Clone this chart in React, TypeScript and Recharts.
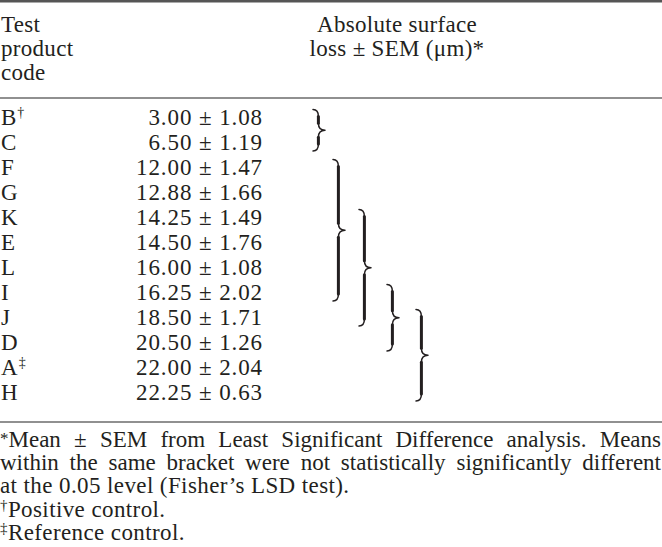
import React from "react";
import { ComposedChart, XAxis, YAxis, Scatter, ReferenceLine, ReferenceArea } from "recharts";

// ---------- data ----------
const codes = ["B", "C", "F", "G", "K", "E", "L", "I", "J", "D", "A", "H"];
const codeMarks = ["\u2020", "", "", "", "", "", "", "", "", "", "\u2021", ""];
const means = [3.0, 6.5, 12.0, 12.88, 14.25, 14.5, 16.0, 16.25, 18.5, 20.5, 22.0, 22.25];
const sems = [1.08, 1.19, 1.47, 1.66, 1.49, 1.76, 1.08, 2.02, 1.71, 1.26, 2.04, 0.63];
const headerLeft = ["Test", "product", "code"];
const headerRight = ["Absolute surface", "loss \u00b1 SEM (\u03bcm)*"];
const groupStarts = ["B", "F", "K", "I", "J"];
const groupEnds = ["C", "I", "J", "D", "H"];
const footnoteMarks = ["*", "", "", "\u2020", "\u2021"];
const footnoteTexts = [
  "Mean \u00b1 SEM from Least Significant Difference analysis. Means",
  "within the same bracket were not statistically significantly different",
  "at the 0.05 level (Fisher\u2019s LSD test).",
  "Positive control.",
  "Reference control.",
];
const footnoteJustified = [true, true, false, false, false];

// ---------- layout ----------
const W = 662;
const H = 547;
const ROW_PX = 25;
const FIRST_BASELINE = 125;
const Y0 = -FIRST_BASELINE / ROW_PX;
const Y1 = Y0 + H / ROW_PX;
const rowOf = (px: number) => (px - FIRST_BASELINE) / ROW_PX;
const HEADER_ROWS = [32, 56, 80].map(rowOf);
const NOTE_ROWS = [447, 470, 493, 516.5, 540].map(rowOf);
const RULES = [
  { y: rowOf(1.2), w: 2.4, c: "#555" },
  { y: rowOf(98), w: 1.4, c: "#6b6b6b" },
  { y: rowOf(422), w: 1.4, c: "#6b6b6b" },
];
const CODE_X = 1;
const VALUE_X = 263;
const HEAD_RIGHT_X = 397;
const BR_X = [313, 333, 359, 387, 416];
const BR_W = 12;
const BR_TOP = 0.62;
const BR_BOT = 0.04;

const FONT = "'Liberation Serif', 'Times New Roman', serif";
const FS = 23;
const INK = "#231f20";

let ctx: CanvasRenderingContext2D | null = null;
function measure(text: string, size: number) {
  if (!ctx) ctx = document.createElement("canvas").getContext("2d");
  if (!ctx) return text.length * size * 0.45;
  ctx.font = `${size}px "Liberation Serif"`;
  return ctx.measureText(text).width;
}

const CodeShape = (p: any) => (
  <text x={p.cx} y={p.cy} fontFamily={FONT} fontSize={FS} fill={INK}>
    {p.payload.label}
    {p.payload.mark ? (
      <tspan fontSize={14} dx={1} dy={-8}>
        {p.payload.mark}
      </tspan>
    ) : null}
  </text>
);

const ValueShape = (p: any) => (
  <text x={p.cx} y={p.cy} fontFamily={FONT} fontSize={FS} fill={INK} textAnchor="end" letterSpacing={0.9}>
    {p.payload.label}
  </text>
);

const PlainShape = (anchor: string) => (p: any) => (
  <text x={p.cx} y={p.cy} fontFamily={FONT} fontSize={FS} fill={INK} textAnchor={anchor} letterSpacing={0.3}>
    {p.payload.label}
  </text>
);

const NoteShape = (p: any) => {
  const { mark, label, justified } = p.payload;
  const markSize = mark === "*" ? 17 : 15;
  let ws = 0;
  if (justified) {
    const full = measure(mark, markSize) + measure(label, FS);
    const spaces = (label.match(/ /g) || []).length;
    ws = spaces > 0 ? (W - 1 - full) / spaces : 0;
  }
  return (
    <text
      x={p.cx}
      y={p.cy}
      fontFamily={FONT}
      fontSize={FS}
      fill={INK}
      letterSpacing={justified ? 0 : 0.4}
      style={{ wordSpacing: `${ws}px` }}
    >
      {mark ? (
        <tspan fontSize={markSize} dy={mark === "*" ? -3 : -7}>
          {mark}
        </tspan>
      ) : null}
      <tspan dy={mark ? (mark === "*" ? 3 : 7) : 0}>{label}</tspan>
    </text>
  );
};

const Brace = (p: any) => {
  const x = Number(p.x);
  const y = Math.min(Number(p.y), Number(p.y) + Number(p.height));
  const w = Math.abs(Number(p.width));
  const h = Math.abs(Number(p.height));
  const xl = x;
  const xm = x + w * 0.45;
  const xr = x + w;
  const ym = y + h / 2;
  const r = Math.min(7, h / 6);
  const thin = 1.5;
  const thick = 3;
  return (
    <g fill="none" stroke={INK} strokeLinecap="round" strokeLinejoin="round">
      <path d={`M ${xl} ${y} Q ${xm} ${y} ${xm} ${y + r}`} strokeWidth={thin} />
      <path d={`M ${xm} ${y + r} L ${xm} ${ym - r}`} strokeWidth={thick} />
      <path d={`M ${xm} ${ym - r} Q ${xm} ${ym} ${xr} ${ym} Q ${xm} ${ym} ${xm} ${ym + r}`} strokeWidth={thin} />
      <path d={`M ${xm} ${ym + r} L ${xm} ${y + h - r}`} strokeWidth={thick} />
      <path d={`M ${xm} ${y + h - r} Q ${xm} ${y + h} ${xl} ${y + h}`} strokeWidth={thin} />
    </g>
  );
};

export default function App() {
  const codeData = codes.map((c, i) => ({ x: CODE_X, y: i, label: c, mark: codeMarks[i] }));
  const valueData = codes.map((_, i) => ({
    x: VALUE_X,
    y: i,
    label: `${means[i].toFixed(2)} \u00b1 ${sems[i].toFixed(2)}`,
  }));
  const headLeftData = headerLeft.map((t, i) => ({ x: CODE_X, y: HEADER_ROWS[i], label: t }));
  const headRightData = headerRight.map((t, i) => ({ x: HEAD_RIGHT_X, y: HEADER_ROWS[i], label: t }));
  const noteData = footnoteTexts.map((t, i) => ({
    x: 0,
    y: NOTE_ROWS[i],
    label: t,
    mark: footnoteMarks[i],
    justified: footnoteJustified[i],
  }));
  const brackets = groupStarts.map((s, i) => ({
    y1: codes.indexOf(s) - BR_TOP,
    y2: codes.indexOf(groupEnds[i]) + BR_BOT,
    x1: BR_X[i],
    x2: BR_X[i] + BR_W,
  }));

  return (
    <div style={{ position: "absolute", left: 0, top: 0, width: W, height: H, background: "#fff" }}>
      <ComposedChart width={W} height={H} margin={{ top: 0, right: 0, bottom: 0, left: 0 }}>
        <XAxis type="number" dataKey="x" domain={[0, W]} hide allowDataOverflow />
        <YAxis type="number" dataKey="y" domain={[Y0, Y1]} hide reversed allowDataOverflow />
        {RULES.map((r, i) => (
          <ReferenceLine key={`r${i}`} y={r.y} stroke={r.c} strokeWidth={r.w} />
        ))}
        {brackets.map((b, i) => (
          <ReferenceArea key={`b${i}`} x1={b.x1} x2={b.x2} y1={b.y1} y2={b.y2} shape={Brace} />
        ))}
        <Scatter data={headLeftData} shape={PlainShape("start")} isAnimationActive={false} />
        <Scatter data={headRightData} shape={PlainShape("middle")} isAnimationActive={false} />
        <Scatter data={codeData} shape={CodeShape} isAnimationActive={false} />
        <Scatter data={valueData} shape={ValueShape} isAnimationActive={false} />
        <Scatter data={noteData} shape={NoteShape} isAnimationActive={false} />
      </ComposedChart>
    </div>
  );
}
